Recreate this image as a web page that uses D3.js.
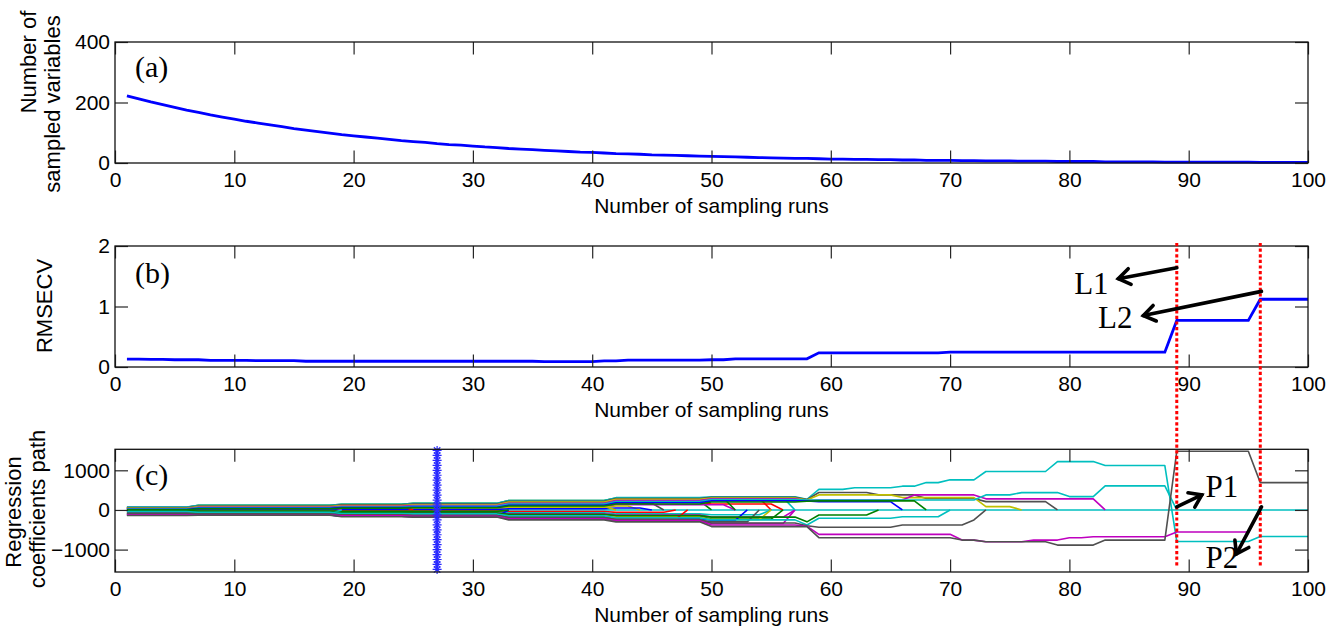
<!DOCTYPE html>
<html><head><meta charset="utf-8">
<script src="https://cdn.jsdelivr.net/npm/d3@7"></script>
<style>
body{margin:0;background:#fff;}
svg{display:block;}
</style></head><body>
<svg id="chart" width="1339" height="632"></svg>
<script>
// ---- data ----
const sampledVars = [222,212,202,193,184,175,167,159,152,145,138,132,126,120,114,109,104,99,94,90,
  86,82,78,74,71,68,64,61,59,56,53,51,48,46,44,42,40,38,36,35,
  33,31,30,29,27,26,25,24,23,22,21,20,19,18,17,16,15,15,14,13,
  13,12,12,11,11,10,10,9,9,9,8,8,7,7,7,6,6,6,5,5,
  5,5,4,4,4,4,4,3,3,3,3,3,3,3,3,2,2,2,2,2];

const rmsecv = [0.13,0.13,0.125,0.125,0.12,0.12,0.12,0.11,0.11,0.11,
  0.11,0.105,0.105,0.105,0.105,0.095,0.095,0.095,0.095,0.095,
  0.095,0.095,0.095,0.095,0.095,0.095,0.095,0.095,0.095,0.095,
  0.095,0.095,0.095,0.095,0.095,0.09,0.09,0.09,0.09,0.09,
  0.10,0.10,0.115,0.115,0.115,0.115,0.115,0.115,0.115,0.12,
  0.12,0.135,0.135,0.135,0.135,0.135,0.135,0.135,0.235,0.235,
  0.235,0.235,0.235,0.235,0.235,0.235,0.235,0.235,0.235,0.245,
  0.245,0.245,0.245,0.245,0.245,0.245,0.245,0.245,0.245,0.245,
  0.245,0.245,0.245,0.245,0.245,0.245,0.245,0.245,0.77,0.77,
  0.77,0.77,0.77,0.77,0.77,1.12,1.12,1.12,1.12,1.12];

const xTicks = [0,10,20,30,40,50,60,70,80,90,100];
const yTicksA = [0,200,400];
const yTicksB = [0,1,2];
const yTicksC = [-1000,0,1000];

// regression coefficient paths: breakpoints [run, value]; value holds until the next breakpoint
const coefPaths = [
  [[1,0],[100,0]],
  [[1,60],[7,95],[19,120],[25,140],[33,190],[42,260],[50,300],[55,0]],
  [[1,45],[7,80],[19,100],[25,120],[33,180],[42,230],[50,0]],
  [[1,35],[7,60],[19,80],[25,100],[33,160],[42,200],[50,150],[56,0]],
  [[1,25],[7,45],[19,65],[25,80],[33,130],[42,170],[46,0]],
  [[1,15],[7,20],[19,35],[25,50],[33,90],[42,130],[52,0]],
  [[1,2],[7,10],[19,20],[25,30],[33,60],[42,100],[44,0]],
  [[1,-10],[7,-5],[19,5],[25,10],[33,30],[42,50],[45,0]],
  [[1,-20],[7,-20],[19,-25],[25,-30],[33,-40],[42,-60],[47,0]],
  [[1,-35],[7,-35],[19,-45],[25,-55],[33,-70],[42,-100],[50,-120],[55,0]],
  [[1,-50],[7,-60],[19,-70],[25,-80],[33,-100],[42,-130],[50,-180],[57,0]],
  [[1,-60],[7,-70],[19,-85],[25,-95],[33,-120],[42,-160],[50,-230],[56,0]],
  [[1,-75],[7,-80],[19,-100],[25,-110],[33,-140],[42,-180],[50,-240],[55,0]],
  [[1,-85],[7,-90],[19,-110],[25,-120],[33,-170],[42,-220],[50,-260],[53,0]],
  [[1,-100],[7,-110],[19,-120],[25,-130],[33,-180],[42,-230],[48,0]],
  [[1,-110],[7,-115],[19,-140],[25,-150],[33,-200],[42,-260],[50,-300],[54,0]],
  [[1,-130],[7,-125],[19,-160],[25,-170],[33,-230],[42,-280],[50,-340],[57,0]],
  [[1,70],[7,115],[19,140],[25,165],[33,235],[42,300],[52,0]],
  [[1,50],[7,90],[19,125],[25,145],[33,210],[42,280],[50,310],[57,0]],
  [[1,-130],[7,-125],[19,-155],[25,-165],[33,0]],
  [[1,40],[7,70],[19,95],[25,0]],
  [[1,-15],[7,-25],[19,-35],[33,0]],
  [[1,20],[7,50],[19,70],[25,90],[42,0]],
  [[1,68],[7,105],[19,0]],
  [[1,-100],[7,-95],[19,0]],
  [[1,75],[7,120],[19,145],[25,170],[33,240],[42,310],[50,330],[58,270],[59,520],[62,560],[66,600],[68,690],[70,760],[73,970],[79,1220],[83,1120],[89,-795],[96,-670],[100,-670]],
  [[1,55],[7,100],[19,130],[25,150],[33,220],[42,290],[50,320],[58,260],[59,440],[64,380],[68,290],[73,210],[79,0]],
  [[1,40],[7,85],[19,110],[25,130],[33,200],[42,270],[50,300],[58,250],[59,380],[66,312],[73,84],[76,0]],
  [[1,30],[7,70],[19,90],[25,110],[33,170],[42,240],[50,280],[58,240],[59,253],[67,380],[73,280],[83,0]],
  [[1,20],[7,55],[19,75],[25,90],[33,150],[42,210],[50,260],[58,250],[59,253],[73,380],[76,438],[80,337],[83,608],[89,0]],
  [[1,10],[7,40],[19,60],[25,70],[33,120],[42,180],[50,230],[58,230],[59,210],[66,0]],
  [[1,5],[7,30],[19,45],[25,55],[33,100],[42,150],[50,200],[58,220],[59,230],[68,0]],
  [[1,-30],[7,-50],[19,-70],[25,-80],[33,-110],[42,-140],[50,-180],[58,-300],[59,-127],[64,0]],
  [[1,-40],[7,-60],[19,-90],[25,-100],[33,-150],[42,-200],[50,-250],[58,-380],[59,-210],[66,-170],[70,0]],
  [[1,-90],[7,-100],[19,-130],[25,-140],[33,-190],[42,-240],[50,-330],[58,-400],[59,-438],[66,-380],[72,-253],[73,0]],
  [[1,-120],[7,-120],[19,-150],[25,-160],[33,-220],[42,-270],[50,-380],[58,-410],[59,-615],[71,-760],[73,-802],[77,-760],[80,-700],[82,-675],[89,-557],[96,0]],
  [[1,-140],[7,-130],[19,-170],[25,-180],[33,-250],[42,-300],[50,-420],[58,-420],[59,-700],[71,-760],[73,-802],[79,-886],[83,-760],[89,1480],[96,690],[100,690]]
];
const coefColorKeys = ["c","r","g","r","k","m","y","b","r","c","m","g","y","b","r","k","m","g","c","b","r","g","y","m","c",
  "c","k","y","m","c","b","g","g","c","k","m","k"];

const selectedRun = 27;
const starValues = [-1500,-1375,-1250,-1125,-1000,-875,-750,-625,-500,-375,-250,-125,0,
  125,250,375,500,625,750,875,1000,1125,1250,1375,1500];
const markerRuns = [89, 96];

// ---- styling ----
const palette = {b:"#0000ff", g:"#008000", r:"#ff0000", c:"#00bfbf", m:"#bf00bf", y:"#bfbf00", k:"#505050"};
const sansFont = "'Liberation Sans', Arial, Helvetica, sans-serif";
const serifFont = "'Liberation Serif', 'Times New Roman', serif";

const svg = d3.select("#chart");
const left = 115, right = 1308;
const x = d3.scaleLinear().domain([0,100]).range([left,right]);

const panels = [
  {top:42, bottom:163, domain:[0,400], ticks:yTicksA, tag:"(a)", tagY:77},
  {top:246, bottom:367, domain:[0,2], ticks:yTicksB, tag:"(b)", tagY:283},
  {top:449.3, bottom:572, domain:[-1565,1530], ticks:yTicksC, tag:"(c)", tagY:485}
];
panels.forEach(p => { p.y = d3.scaleLinear().domain(p.domain).range([p.bottom,p.top]); });

function drawFrame(p){
  const g = svg.append("g");
  const tickLen = 12.5;
  const styleAxis = sel => {
    sel.select(".domain").remove();
    sel.selectAll(".tick line").attr("stroke","#262626").attr("stroke-width",1.2);
    sel.selectAll("text").attr("font-family",sansFont).attr("font-size",21).attr("fill","#000");
  };
  g.append("g").attr("transform",`translate(0,${p.bottom})`)
    .call(d3.axisBottom(x).tickValues(xTicks).tickSize(-tickLen).tickPadding(9).tickFormat(d3.format("d")))
    .call(styleAxis);
  g.append("g").attr("transform",`translate(0,${p.top})`)
    .call(d3.axisTop(x).tickValues(xTicks).tickSize(-tickLen).tickFormat(""))
    .call(styleAxis);
  g.append("g").attr("transform",`translate(${left},0)`)
    .call(d3.axisLeft(p.y).tickValues(p.ticks).tickSize(-13).tickPadding(5).tickFormat(d3.format("d")))
    .call(styleAxis);
  g.append("g").attr("transform",`translate(${right},0)`)
    .call(d3.axisRight(p.y).tickValues(p.ticks).tickSize(-13).tickFormat(""))
    .call(styleAxis);
  g.append("rect").attr("x",left).attr("y",p.top).attr("width",right-left).attr("height",p.bottom-p.top)
    .attr("fill","none").attr("stroke","#111").attr("stroke-width",1.3);
  g.append("text").attr("x",(left+right)/2).attr("y",p.bottom+50).attr("text-anchor","middle")
    .attr("font-family",sansFont).attr("font-size",21).text("Number of sampling runs");
  g.append("text").attr("x",left+20).attr("y",p.tagY)
    .attr("font-family",serifFont).attr("font-size",30).text(p.tag);
}

function yLabel(lines, centers){
  lines.forEach((t,i)=>{
    svg.append("text").attr("transform",`translate(${centers[i][0]},${centers[i][1]}) rotate(-90)`)
      .attr("text-anchor","middle").attr("font-family",sansFont).attr("font-size",22).text(t);
  });
}

// ---- panel (a): number of sampled variables ----
const pA = panels[0];
const lineA = d3.line().x((d,i)=>x(i+1)).y(d=>pA.y(d));
svg.append("path").datum(sampledVars).attr("d",lineA).attr("fill","none")
  .attr("stroke","#0000ff").attr("stroke-width",2.8);

// ---- panel (b): RMSECV ----
const pB = panels[1];
const lineB = d3.line().x((d,i)=>x(i+1)).y(d=>pB.y(d));
svg.append("path").datum(rmsecv).attr("d",lineB).attr("fill","none")
  .attr("stroke","#0000ff").attr("stroke-width",2.8);

// ---- panel (c): regression coefficient paths ----
const pC = panels[2];
function stepVertices(bp){
  const out = [];
  bp.forEach((d,i)=>{
    out.push(d);
    const nxt = bp[i+1];
    if (nxt && nxt[0]-1 > d[0]) out.push([nxt[0]-1, d[1]]);
  });
  return out;
}
const lineC = d3.line().x(d=>x(d[0])).y(d=>pC.y(d[1]));
coefPaths.forEach((bp,i)=>{
  svg.append("path").attr("d",lineC(stepVertices(bp))).attr("fill","none")
    .attr("stroke",palette[coefColorKeys[i]]).attr("stroke-width",1.6).attr("stroke-linejoin","round");
});

// selected run marked with a starred vertical line
const starG = svg.append("g");
starG.append("path").attr("d",lineC(starValues.map(v=>[selectedRun,v])))
  .attr("stroke","#0000ff").attr("stroke-width",1.8).attr("fill","none");
starG.selectAll("path.star").data(starValues).join("path").attr("class","star")
  .attr("transform",v=>`translate(${x(selectedRun)},${pC.y(v)})`)
  .attr("d","M-4.5,0H4.5M0,-4.5V4.5M-3.2,-3.2L3.2,3.2M-3.2,3.2L3.2,-3.2")
  .attr("stroke","#2a2aff").attr("stroke-width",1.2).attr("fill","none");

panels.forEach(drawFrame);

yLabel(["Number of","sampled variables"],[[36,62],[60,104]]);
yLabel(["RMSECV"],[[52,306]]);
yLabel(["Regression","coefficients path"],[[21,512],[45,509]]);

// ---- red dotted markers spanning panels (b) and (c) ----
markerRuns.forEach(r=>{
  svg.append("line").attr("x1",x(r)).attr("x2",x(r))
    .attr("y1",pB.top-3).attr("y2",pC.y(-1450))
    .attr("stroke","#ff0000").attr("stroke-width",3).attr("stroke-dasharray","3.2,2.4");
});

// ---- arrows and labels ----
function arrow(x1,y1,x2,y2){
  const ang = Math.atan2(y2-y1,x2-x1), len = 14, spread = 0.6;
  const g = svg.append("g").attr("stroke","#000").attr("stroke-width",3.6)
    .attr("stroke-linecap","round").attr("fill","none");
  g.append("line").attr("x1",x1).attr("y1",y1).attr("x2",x2).attr("y2",y2);
  const a1 = ang+Math.PI-spread, a2 = ang+Math.PI+spread;
  g.append("path").attr("d",`M${x2+len*Math.cos(a1)},${y2+len*Math.sin(a1)}L${x2},${y2}L${x2+len*Math.cos(a2)},${y2+len*Math.sin(a2)}`)
    .attr("stroke-linejoin","miter");
}
arrow(x(89), pB.y(1.64), x(84.1), pB.y(1.46));
arrow(x(96.1), pB.y(1.25), x(86.2), pB.y(0.85));
arrow(x(89), pC.y(76), x(91.1), pC.y(378));
arrow(x(96.1), pC.y(76), x(94.0), pC.y(-1110));

const notes = [["L1",80.4,pB.y(1.21)],["L2",82.4,pB.y(0.64)],["P1",91.4,pC.y(330)],["P2",91.4,pC.y(-1463)]];
notes.forEach(n=>{
  svg.append("text").attr("x",x(n[1])).attr("y",n[2]).attr("font-family",serifFont)
    .attr("font-size",31).attr("fill","#000").text(n[0]);
});
</script>
</body></html>
